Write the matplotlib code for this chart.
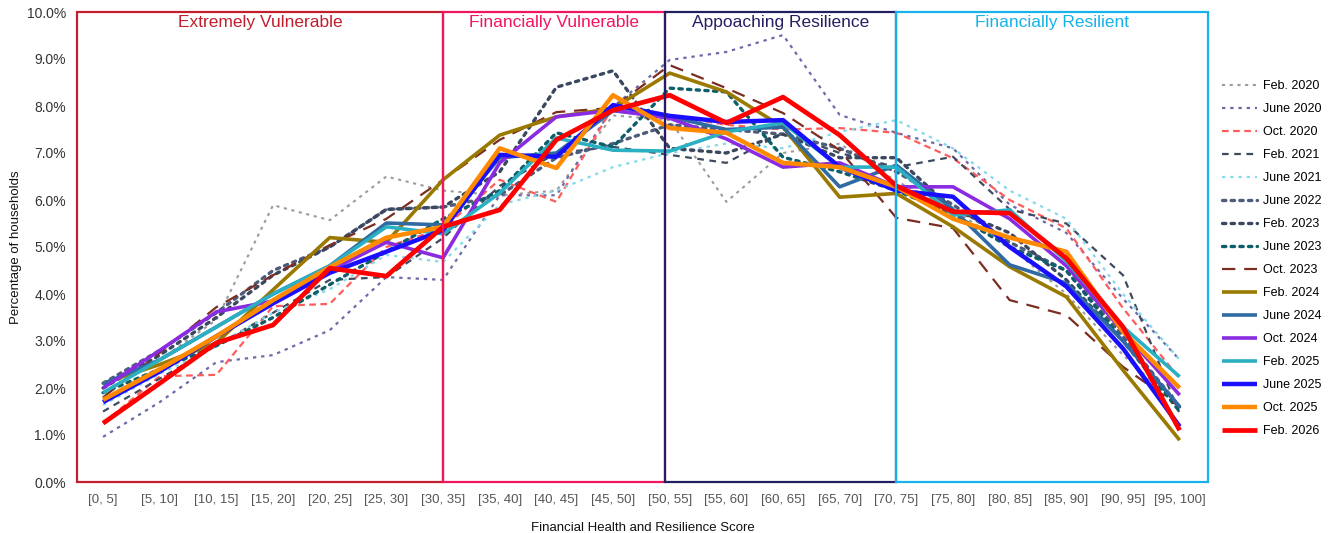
import matplotlib
matplotlib.use("Agg")
import matplotlib.pyplot as plt
from matplotlib.patches import Rectangle
from matplotlib.ticker import FuncFormatter

plt.rcParams['font.family'] = ['Liberation Sans', 'DejaVu Sans']

categories = ["[0, 5]", "[5, 10]", "[10, 15]", "[15, 20]", "[20, 25]", "[25, 30]", "[30, 35]",
              "[35, 40]", "[40, 45]", "[45, 50]", "[50, 55]", "[55, 60]", "[60, 65]", "[65, 70]",
              "[70, 75]", "[75, 80]", "[80, 85]", "[85, 90]", "[90, 95]", "[95, 100]"]

# values in percent of households
feb2020 = [2.1, 2.6, 3.45, 5.89, 5.57, 6.5, 6.2, 6.1, 6.2, 7.8, 7.7, 5.96, 7.0, 7.2, 6.4, 5.8, 5.0, 4.0, 2.7, 1.6]
june2020 = [0.96, 1.7, 2.55, 2.7, 3.23, 4.36, 4.3, 6.1, 6.1, 7.98, 8.98, 9.15, 9.51, 7.81, 7.43, 7.1, 5.9, 5.3, 3.9, 2.6]
oct2020 = [1.25, 2.25, 2.28, 3.74, 3.79, 5.0, 5.4, 6.43, 5.96, 7.98, 7.8, 7.6, 7.5, 7.53, 7.43, 6.89, 6.0, 5.4, 3.7, 2.2]
feb2021 = [1.5, 2.2, 2.9, 3.6, 4.3, 4.36, 5.19, 6.3, 7.0, 7.13, 6.96, 6.79, 7.43, 7.0, 6.7, 6.92, 5.8, 5.5, 4.4, 1.45]
june2021 = [1.64, 2.3, 2.9, 3.6, 4.1, 4.83, 4.68, 5.9, 6.2, 6.7, 7.0, 7.2, 7.1, 7.45, 7.7, 7.1, 6.2, 5.6, 4.0, 2.6]
june2022 = [2.1, 2.8, 3.6, 4.5, 5.0, 5.8, 5.85, 6.1, 6.9, 7.2, 7.6, 7.5, 7.4, 7.1, 6.6, 5.9, 5.1, 4.5, 3.1, 1.6]
feb2023 = [2.0, 2.7, 3.5, 4.4, 5.0, 5.8, 5.85, 6.6, 8.4, 8.75, 7.1, 7.0, 7.4, 6.9, 6.9, 5.8, 5.3, 4.3, 3.0, 1.6]
june2023 = [1.9, 2.4, 2.9, 3.5, 4.2, 4.9, 5.6, 6.2, 7.43, 7.13, 8.38, 8.3, 6.91, 6.6, 6.2, 5.7, 5.0, 4.5, 3.0, 1.5]
oct2023 = [1.8, 2.75, 3.72, 4.4, 5.04, 5.6, 6.43, 7.28, 7.87, 7.96, 8.87, 8.38, 7.85, 7.06, 5.62, 5.4, 3.87, 3.55, 2.45, 1.6]
feb2024 = [2.1, 2.5, 2.96, 4.09, 5.2, 5.1, 6.43, 7.38, 7.77, 7.95, 8.7, 8.3, 7.55, 6.06, 6.14, 5.43, 4.58, 3.94, 2.38, 0.89]
june2024 = [2.09, 2.6, 3.3, 4.0, 4.6, 5.51, 5.47, 6.9, 7.0, 7.9, 7.77, 7.5, 7.55, 6.28, 6.74, 5.8, 4.62, 4.23, 3.0, 1.6]
oct2024 = [2.0, 2.8, 3.62, 3.85, 4.5, 5.1, 4.77, 6.79, 7.77, 7.91, 7.74, 7.3, 6.7, 6.79, 6.28, 6.28, 5.6, 4.6, 3.2, 1.85]
feb2025 = [1.9, 2.6, 3.3, 4.0, 4.6, 5.43, 5.28, 6.15, 7.32, 7.06, 7.04, 7.45, 7.64, 6.7, 6.7, 5.68, 5.79, 4.7, 3.3, 2.24]
june2025 = [1.7, 2.35, 3.1, 3.8, 4.45, 4.9, 5.36, 6.96, 6.92, 8.02, 7.79, 7.66, 7.7, 6.7, 6.2, 6.07, 5.0, 4.16, 2.84, 1.18]
oct2025 = [1.75, 2.4, 3.1, 3.87, 4.57, 5.2, 5.43, 7.1, 6.68, 8.23, 7.53, 7.43, 6.79, 6.7, 6.28, 5.6, 5.2, 4.9, 3.2, 2.0]
feb2026 = [1.25, 2.1, 2.96, 3.34, 4.55, 4.38, 5.43, 5.79, 7.28, 7.91, 8.23, 7.64, 8.19, 7.38, 6.3, 5.75, 5.72, 4.76, 3.3, 1.1]

series_names = ["Feb. 2020", "June 2020", "Oct. 2020", "Feb. 2021", "June 2021", "June 2022",
                "Feb. 2023", "June 2023", "Oct. 2023", "Feb. 2024", "June 2024", "Oct. 2024",
                "Feb. 2025", "June 2025", "Oct. 2025", "Feb. 2026"]
series_values = [feb2020, june2020, oct2020, feb2021, june2021, june2022, feb2023, june2023,
                 oct2023, feb2024, june2024, oct2024, feb2025, june2025, oct2025, feb2026]

zone_names = ["Extremely Vulnerable", "Financially Vulnerable", "Appoaching Resilience", "Financially Resilient"]

styles = [
    dict(color="#9b9b9b", lw=1.5, ls=(0, (1.5, 2.2))),
    dict(color="#6e6aa8", lw=1.6, ls=(0, (1.5, 2.2))),
    dict(color="#ff5c5c", lw=1.6, ls=(0, (3, 2))),
    dict(color="#3e4b5f", lw=1.6, ls=(0, (3, 2.5))),
    dict(color="#86d9ec", lw=1.6, ls=(0, (1.5, 2.2))),
    dict(color="#4e5c7c", lw=2.4, ls=(0, (1, 1.6)), dash_capstyle="round"),
    dict(color="#3a475f", lw=2.4, ls=(0, (1, 1.6)), dash_capstyle="round"),
    dict(color="#0c5e68", lw=2.4, ls=(0, (1, 1.6)), dash_capstyle="round"),
    dict(color="#7b2d22", lw=1.6, ls=(0, (6, 4))),
    dict(color="#9a7900", lw=2.6, ls="-"),
    dict(color="#2f6aa3", lw=2.6, ls="-"),
    dict(color="#8a2be2", lw=2.6, ls="-"),
    dict(color="#2ab0c2", lw=2.6, ls="-"),
    dict(color="#1a0eff", lw=3.2, ls="-"),
    dict(color="#ff8a00", lw=3.2, ls="-"),
    dict(color="#ff0000", lw=3.4, ls="-"),
]
zone_colors = ["#c21f2e", "#f21660", "#241f63", "#18b2ea"]

fig = plt.figure(figsize=(13.31, 5.33), dpi=100)
ax = fig.add_axes([77 / 1331, 1 - 482 / 533, (1208 - 77) / 1331, (482 - 12) / 533])

x = list(range(len(categories)))
for name, vals, st in zip(series_names, series_values, styles):
    ax.plot(x, [v / 100 for v in vals], label=name, solid_capstyle="butt", **st)

xmin, xmax = -0.46, 19.5
bounds = [xmin, 6, 9.92, 14, xmax]
for i, (nm, col) in enumerate(zip(zone_names, zone_colors)):
    ax.add_patch(Rectangle((bounds[i], 0), bounds[i + 1] - bounds[i], 0.10, fill=False,
                           edgecolor=col, lw=1.6, zorder=5, clip_on=False))
    ax.text((bounds[i] + bounds[i + 1]) / 2, 0.0977, nm, color=col, ha="center", va="center",
            fontsize=12.5)

ax.set_xlim(xmin, xmax)
ax.set_ylim(0, 0.10)
ax.set_xticks(x)
ax.set_xticklabels(categories)
ax.set_yticks([i / 100 for i in range(11)])
ax.yaxis.set_major_formatter(FuncFormatter(lambda v, p: f"{v * 100:.1f}%"))
ax.tick_params(axis="both", length=0, labelsize=10, colors="#333333")
ax.tick_params(axis="x", pad=9, labelsize=9.5, colors="#555555")
ax.tick_params(axis="y", pad=8)
for s in ax.spines.values():
    s.set_visible(False)
ax.set_xlabel("Financial Health and Resilience Score", fontsize=9.5, color="#111111", labelpad=11)
ax.set_ylabel("Percentage of households", fontsize=9.5, color="#111111", labelpad=3)

ax.legend(loc="center left", bbox_to_anchor=(1.002, 0.475), frameon=False, fontsize=9,
          handlelength=2.8, labelspacing=0.88, handletextpad=0.5)

fig.savefig("out.png", dpi=100)
